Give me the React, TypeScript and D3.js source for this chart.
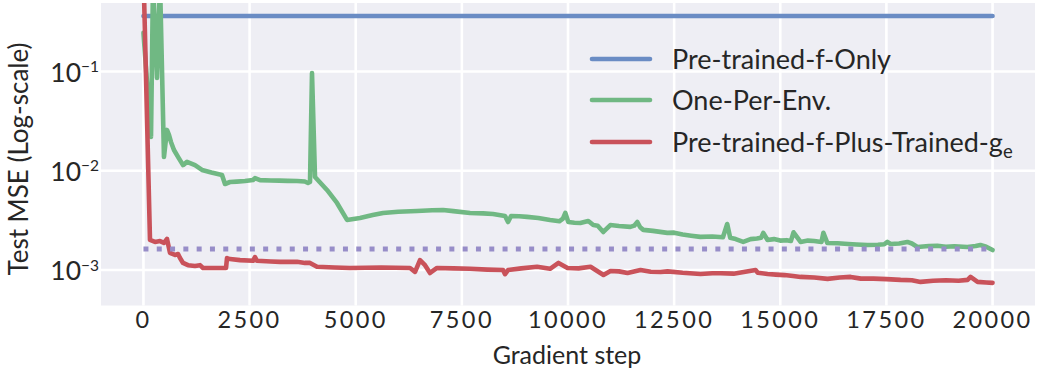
import React from "react";
import * as d3 from "d3";

// ---- data ----
const xTicks = [0, 2500, 5000, 7500, 10000, 12500, 15000, 17500, 20000];
const yTicks = [1e-3, 1e-2, 1e-1];
const yTickExp = ["−3", "−2", "−1"];

// [gradient step, test MSE]
const bluePoints: [number, number][] = [[0, 0.362], [20000, 0.362]];
const baselinePoints: [number, number][] = [[0, 0.00163], [20000, 0.00163]];

const greenPoints: [number, number][] = [
  [0, 0.245], [178, 0.0219], [225, 0.8], [319, 0.086], [390, 0.8], [483, 0.0138], [554, 0.0258],
  [601, 0.023], [648, 0.0195], [719, 0.0162], [814, 0.0138], [932, 0.0114], [1026, 0.0123],
  [1214, 0.0114], [1379, 0.0102], [1600, 0.0096], [1850, 0.00908], [1921, 0.00736], [2039, 0.00771],
  [2200, 0.00778], [2392, 0.00789], [2580, 0.00808], [2627, 0.00845], [2745, 0.00805], [3000, 0.00798],
  [3200, 0.00795], [3400, 0.00792], [3617, 0.00789], [3800, 0.0078], [3876, 0.00753], [3923, 0.0077],
  [3970, 0.0966], [4041, 0.00867], [4323, 0.00641], [4559, 0.00474], [4795, 0.0032], [5101, 0.00335],
  [5400, 0.00358], [5643, 0.00376], [6000, 0.00386], [6444, 0.00394], [6800, 0.004], [7057, 0.00403],
  [7300, 0.00392], [7693, 0.00376], [8000, 0.00372], [8235, 0.00367], [8517, 0.00351], [8588, 0.00305],
  [8659, 0.0035], [8850, 0.00348], [9036, 0.00343], [9300, 0.00335], [9577, 0.0032], [9800, 0.0031],
  [9880, 0.0033], [9937, 0.00376], [10007, 0.00305], [10150, 0.003], [10290, 0.00298], [10478, 0.00312],
  [10596, 0.00284], [10700, 0.0028], [10832, 0.00242], [10997, 0.00284], [11200, 0.00278],
  [11468, 0.00272], [11560, 0.0028], [11633, 0.00305], [11700, 0.0027], [11774, 0.00254],
  [12000, 0.00248], [12340, 0.00237], [12500, 0.00238], [12700, 0.00228], [12900, 0.00222],
  [13117, 0.00216], [13400, 0.00218], [13650, 0.00214], [13750, 0.00291], [13821, 0.00211],
  [13950, 0.00205], [14127, 0.00192], [14300, 0.00205], [14450, 0.00208], [14550, 0.00212],
  [14600, 0.00237], [14700, 0.00201], [14850, 0.00205], [15000, 0.00198], [15150, 0.002],
  [15250, 0.00196], [15312, 0.0024], [15478, 0.00192], [15650, 0.00198], [15800, 0.00196],
  [15970, 0.00192], [16016, 0.00237], [16110, 0.00187], [16350, 0.00186], [16600, 0.00183],
  [16800, 0.00181], [17052, 0.00179], [17300, 0.0018], [17450, 0.00182], [17523, 0.00192],
  [17600, 0.00183], [17800, 0.00185], [17994, 0.00192], [18100, 0.00185], [18230, 0.00171],
  [18500, 0.00175], [18700, 0.00176], [18900, 0.00172], [19100, 0.00174], [19407, 0.00171],
  [19600, 0.00175], [19714, 0.00179], [19850, 0.00172], [20000, 0.00159],
];

const redPoints: [number, number][] = [
  [0, 1.0], [154, 0.00201], [272, 0.00192], [390, 0.00196], [484, 0.00188], [555, 0.00206],
  [625, 0.00149], [743, 0.00142], [814, 0.00145], [861, 0.00132], [932, 0.00118], [1049, 0.00112],
  [1214, 0.0011], [1332, 0.00112], [1403, 0.00105], [1685, 0.00105], [1945, 0.00105], [1968, 0.00132],
  [2039, 0.00129], [2274, 0.00126], [2580, 0.00124], [2627, 0.00135], [2674, 0.00124], [3000, 0.00122],
  [3216, 0.00121], [3617, 0.00121], [3805, 0.00118], [3923, 0.00118], [4088, 0.00108], [4500, 0.00106],
  [4865, 0.00105], [5600, 0.00106], [6279, 0.00105], [6397, 0.00096], [6514, 0.00126], [6632, 0.00112],
  [6750, 0.000935], [6915, 0.00105], [7300, 0.00104], [7693, 0.00103], [8100, 0.00101], [8470, 0.001],
  [8517, 0.00091], [8588, 0.001], [8900, 0.00104], [9271, 0.00108], [9577, 0.00103], [9776, 0.00118],
  [9988, 0.00105], [10250, 0.00104], [10530, 0.00108], [10836, 0.000893], [11001, 0.00098],
  [11200, 0.00097], [11402, 0.000935], [11708, 0.001], [11950, 0.00096], [12180, 0.000955],
  [12345, 0.00097], [12700, 0.00094], [13122, 0.000914], [13400, 0.00093], [13600, 0.00093],
  [13900, 0.00092], [14418, 0.001], [14470, 0.00094], [14700, 0.000914], [14900, 0.0009],
  [15100, 0.00089], [15300, 0.00087], [15478, 0.000853], [15800, 0.00084], [16114, 0.000815],
  [16400, 0.00084], [16656, 0.000853], [16900, 0.00082], [17200, 0.00082], [17500, 0.00081],
  [17834, 0.000796], [18100, 0.00079], [18305, 0.00076], [18600, 0.00078], [18900, 0.00079],
  [19200, 0.00078], [19412, 0.000796], [19482, 0.000853], [19647, 0.00076], [19850, 0.00075],
  [20000, 0.000743],
];

const legendLabels = ["Pre-trained-f-Only", "One-Per-Env.", "Pre-trained-f-Plus-Trained-g"];

// ---- layout ----
const W = 1041;
const H = 376;
const plot = { left: 101, right: 1035, top: 3, bottom: 305.5 };
const FONT = "Lato, 'Open Sans', sans-serif";
const TEXT = "#262626";
const BG = "#EEEEF4";
const C_BLUE = "#6A8CC4";
const C_GREEN = "#70B883";
const C_RED = "#C9525A";
const C_PURPLE = "#978DC8";

export default function App() {
  const x = d3.scaleLinear().domain([-1000, 21000]).range([plot.left, plot.right]);
  const y = d3
    .scaleLog()
    .domain([Math.pow(10, -3.357), Math.pow(10, -0.31)])
    .range([plot.bottom, plot.top]);

  const line = d3
    .line<[number, number]>()
    .x((d) => x(d[0]))
    .y((d) => y(d[1]));

  const series = [
    { d: bluePoints, color: C_BLUE },
    { d: greenPoints, color: C_GREEN },
    { d: redPoints, color: C_RED },
  ];

  const legendColors = [C_BLUE, C_GREEN, C_RED];
  const legendY = [59, 100, 142];

  return (
    <svg
      width={W}
      height={H}
      style={{ position: "absolute", left: 0, top: 0, background: "#fff" }}
      fontFamily={FONT}
    >
      <defs>
        <clipPath id="plotclip">
          <rect x={plot.left} y={plot.top} width={plot.right - plot.left} height={plot.bottom - plot.top} />
        </clipPath>
      </defs>
      <rect x={plot.left} y={plot.top} width={plot.right - plot.left} height={plot.bottom - plot.top} fill={BG} />
      {xTicks.map((t) => (
        <line key={"gx" + t} x1={x(t)} x2={x(t)} y1={plot.top} y2={plot.bottom} stroke="#fff" strokeWidth={2.6} />
      ))}
      {yTicks.map((t) => (
        <line key={"gy" + t} x1={plot.left} x2={plot.right} y1={y(t)} y2={y(t)} stroke="#fff" strokeWidth={2.6} />
      ))}
      <g clipPath="url(#plotclip)">
        {series.map((s, i) => (
          <path
            key={i}
            d={line(s.d) || ""}
            fill="none"
            stroke={s.color}
            strokeWidth={4.6}
            strokeLinejoin="round"
            strokeLinecap="round"
          />
        ))}
        <path
          d={line(baselinePoints) || ""}
          fill="none"
          stroke={C_PURPLE}
          strokeWidth={4.8}
          strokeDasharray="5 8.3"
        />
      </g>
      {xTicks.map((t) => (
        <text key={"tx" + t} x={x(t)} y={328} textAnchor="middle" fontSize={23.5} fill={TEXT} letterSpacing={2.4}>
          {t}
        </text>
      ))}
      {yTicks.map((t, i) => (
        <text key={"ty" + t} x={99} y={y(t) + 10} textAnchor="end" fill={TEXT}>
          <tspan fontSize={26.5}>10</tspan>
          <tspan fontSize={15.5} dy={-9.5}>
            {yTickExp[i]}
          </tspan>
        </text>
      ))}
      <text x={567} y={364} textAnchor="middle" fontSize={25} fill={TEXT}>
        Gradient step
      </text>
      <text transform={`translate(28, 159) rotate(-90)`} textAnchor="middle" fontSize={26} fill={TEXT}>
        Test MSE (Log-scale)
      </text>
      {legendLabels.map((l, i) => (
        <g key={"lg" + i}>
          <line
            x1={592}
            x2={650}
            y1={legendY[i]}
            y2={legendY[i]}
            stroke={legendColors[i]}
            strokeWidth={4.6}
            strokeLinecap="round"
          />
          <text x={672} y={legendY[i] + 10} fontSize={27} fill={TEXT}>
            {l}
            {i === 2 ? (
              <tspan fontSize={18.5} dy={6}>
                e
              </tspan>
            ) : null}
          </text>
        </g>
      ))}
    </svg>
  );
}
